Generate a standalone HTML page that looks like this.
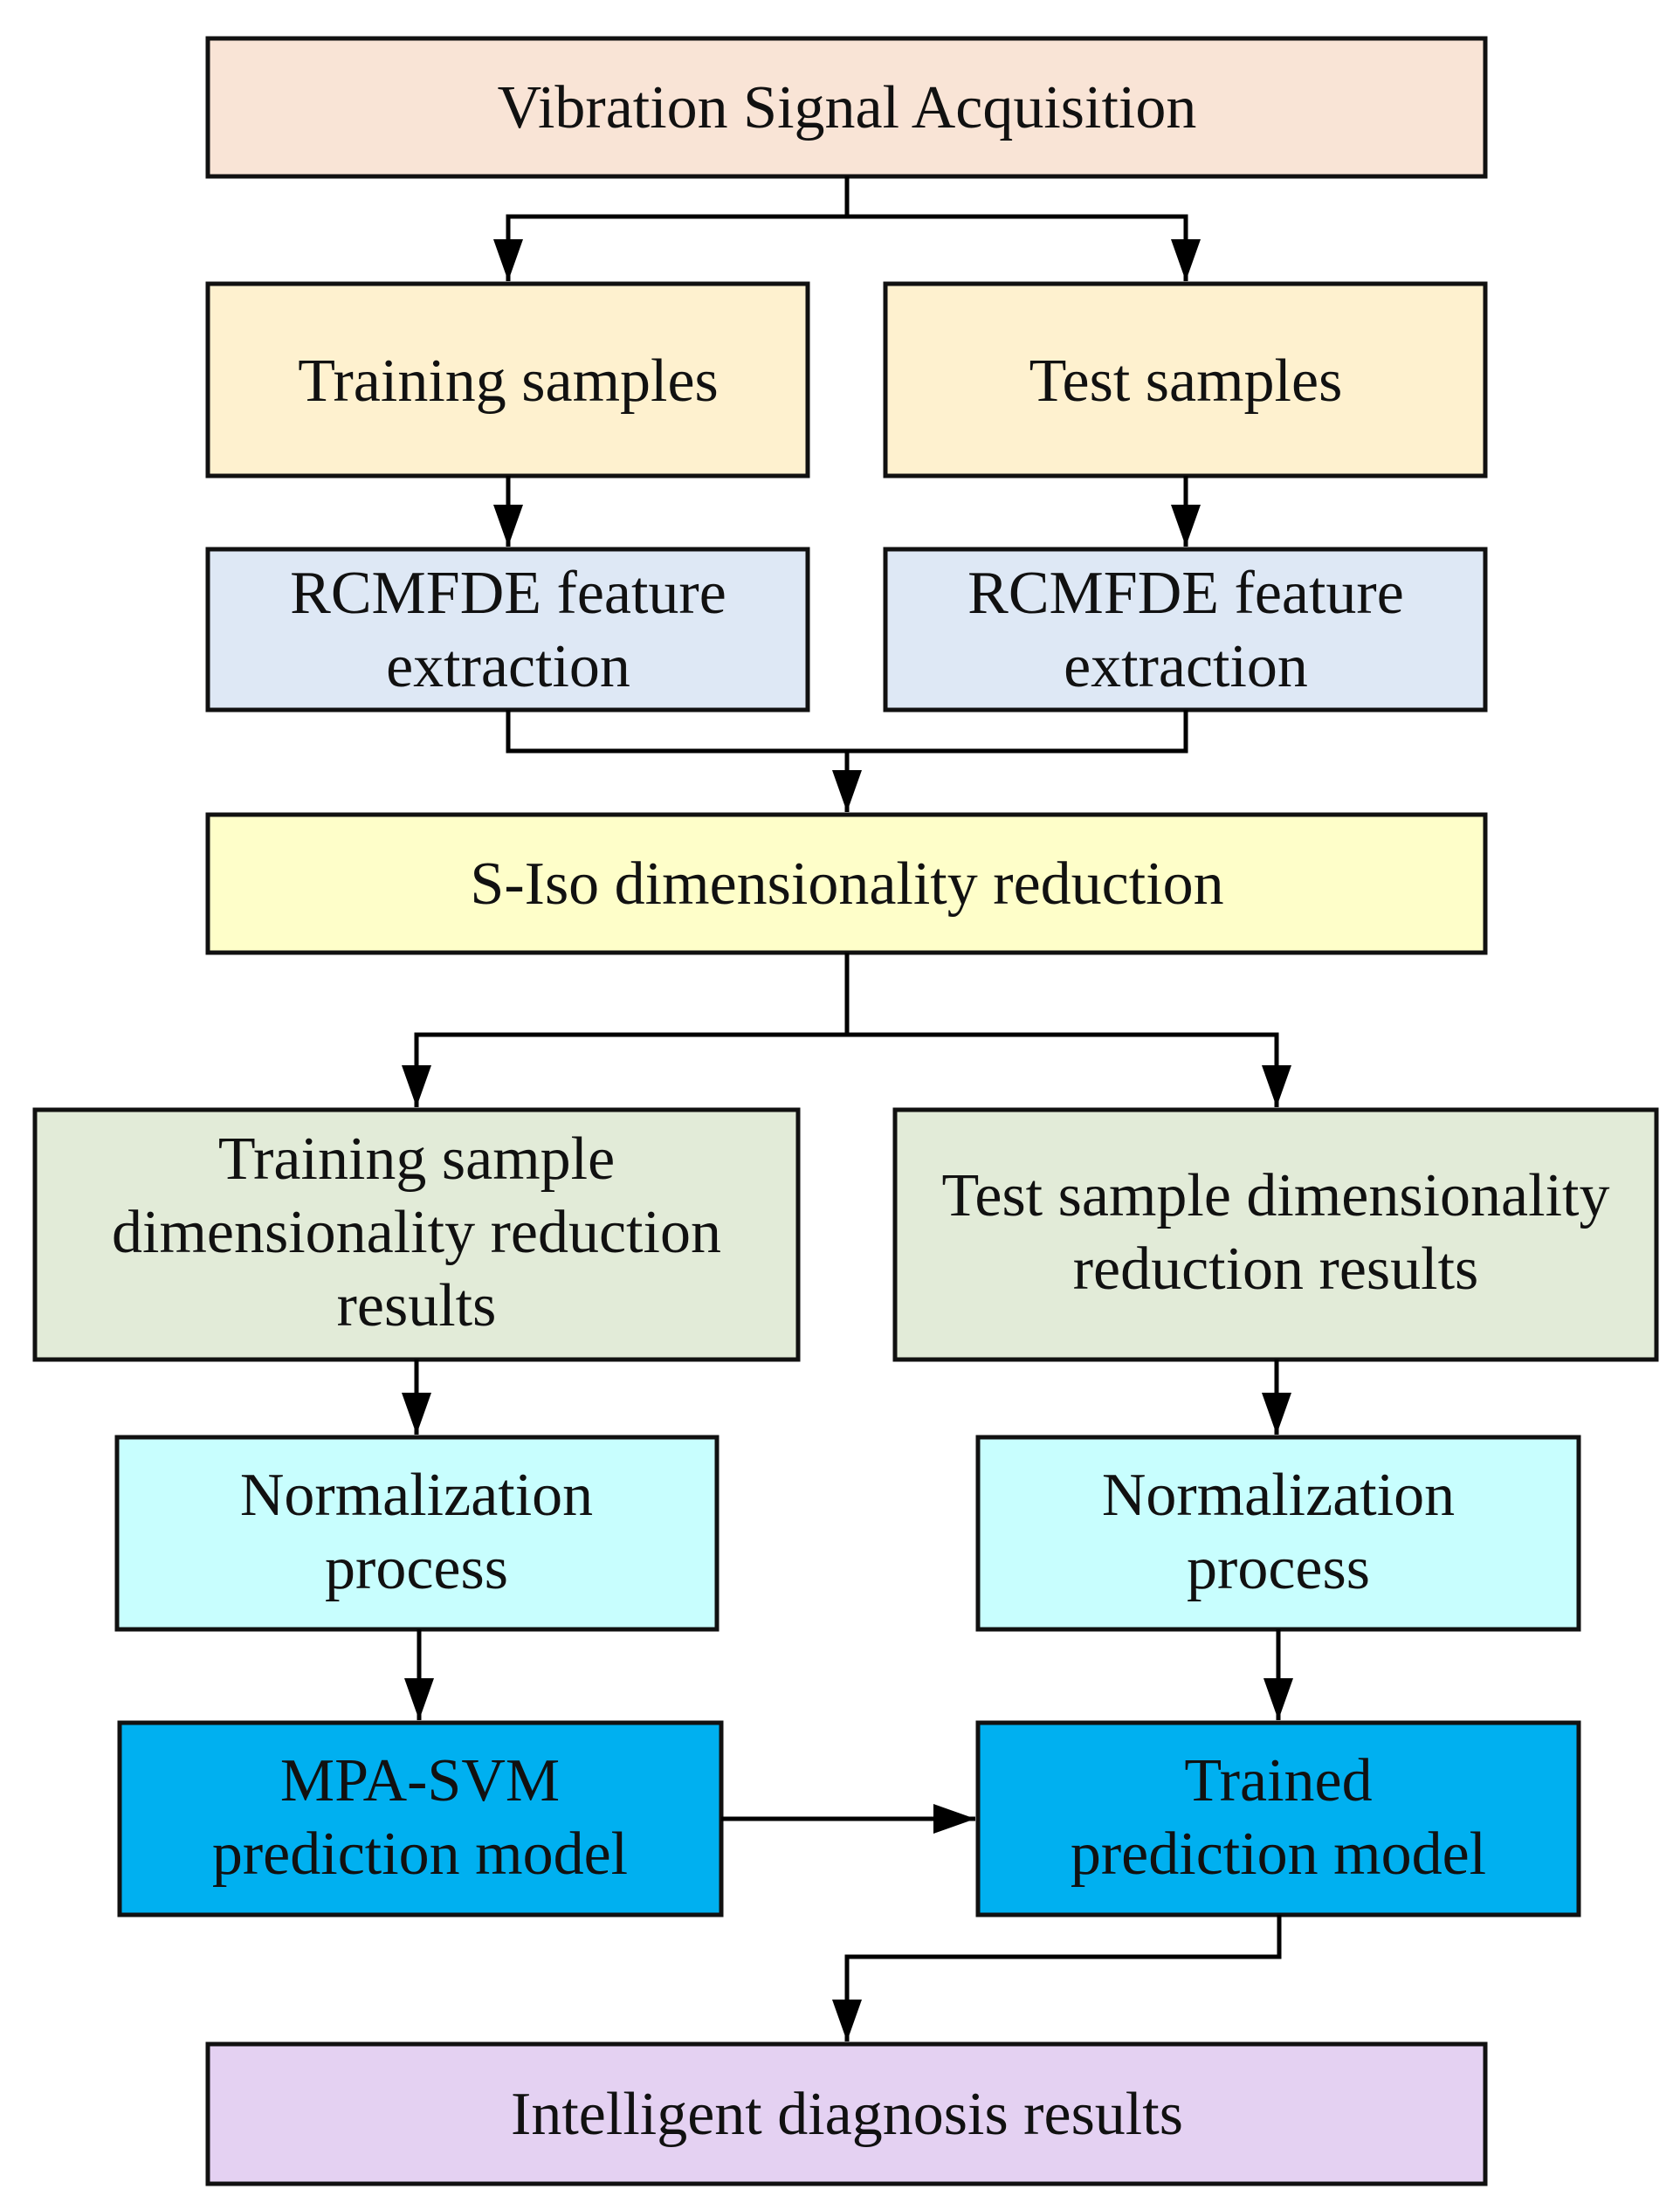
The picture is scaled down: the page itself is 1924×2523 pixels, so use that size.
<!DOCTYPE html>
<html><head><meta charset="utf-8"><style>
html,body{margin:0;padding:0;background:#fff}
svg{display:block}
text{font-family:"Liberation Serif",serif;font-size:70px;fill:#111;text-anchor:middle}
</style></head><body>
<svg width="1924" height="2523" viewBox="0 0 1924 2523" xmlns="http://www.w3.org/2000/svg">
<defs><marker id="a" markerWidth="48" markerHeight="34" refX="48" refY="17" orient="auto" markerUnits="userSpaceOnUse" viewBox="0 0 48 34"><path d="M0 0 L48 17 L0 34 Z" fill="#000"/></marker></defs>
<g stroke="#111" stroke-width="5">
<rect x="238" y="44" width="1463" height="158" fill="#f9e4d6"/>
<rect x="238" y="325" width="687" height="220" fill="#fef1cf"/>
<rect x="1014" y="325" width="687" height="220" fill="#fef1cf"/>
<rect x="238" y="629" width="687" height="184" fill="#dee8f5"/>
<rect x="1014" y="629" width="687" height="184" fill="#dee8f5"/>
<rect x="238" y="933" width="1463" height="158" fill="#fefec9"/>
<rect x="40" y="1271" width="874" height="286" fill="#e2ebd8"/>
<rect x="1025" y="1271" width="872" height="286" fill="#e2ebd8"/>
<rect x="134" y="1646" width="687" height="220" fill="#c8fefe"/>
<rect x="1120" y="1646" width="688" height="220" fill="#c8fefe"/>
<rect x="137" y="1973" width="689" height="220" fill="#00b0f0"/>
<rect x="1120" y="1973" width="688" height="220" fill="#00b0f0"/>
<rect x="238" y="2341" width="1463" height="160" fill="#e4d1f2"/>
</g>
<g stroke="#000" stroke-width="5" fill="none">
<path d="M970 202 V248 H582 V322" marker-end="url(#a)"/>
<path d="M970 248 H1358 V322" marker-end="url(#a)"/>
<path d="M582 545 V626" marker-end="url(#a)"/>
<path d="M1358 545 V626" marker-end="url(#a)"/>
<path d="M582 813 V860 H1358 V813"/>
<path d="M970 860 V930" marker-end="url(#a)"/>
<path d="M970 1091 V1185 H477 V1268" marker-end="url(#a)"/>
<path d="M970 1185 H1462 V1268" marker-end="url(#a)"/>
<path d="M477 1557 V1643" marker-end="url(#a)"/>
<path d="M1462 1557 V1643" marker-end="url(#a)"/>
<path d="M480 1866 V1970" marker-end="url(#a)"/>
<path d="M1464 1866 V1970" marker-end="url(#a)"/>
<path d="M826 2083 H1117" marker-end="url(#a)"/>
<path d="M1465 2193 V2241 H970 V2338" marker-end="url(#a)"/>
</g>
<text x="970" y="146">Vibration Signal Acquisition</text>
<text x="582" y="459">Training samples</text>
<text x="1358" y="459">Test samples</text>
<text x="582" y="702">RCMFDE feature</text>
<text x="582" y="786">extraction</text>
<text x="1358" y="702">RCMFDE feature</text>
<text x="1358" y="786">extraction</text>
<text x="970" y="1035">S-Iso dimensionality reduction</text>
<text x="477" y="1350">Training sample</text>
<text x="477" y="1434">dimensionality reduction</text>
<text x="477" y="1518">results</text>
<text x="1461" y="1392">Test sample dimensionality</text>
<text x="1461" y="1476">reduction results</text>
<text x="477" y="1735">Normalization</text>
<text x="477" y="1819">process</text>
<text x="1464" y="1735">Normalization</text>
<text x="1464" y="1819">process</text>
<text x="481" y="2062">MPA-SVM</text>
<text x="481" y="2146">prediction model</text>
<text x="1464" y="2062">Trained</text>
<text x="1464" y="2146">prediction model</text>
<text x="970" y="2444">Intelligent diagnosis results</text>
</svg>
</body></html>
